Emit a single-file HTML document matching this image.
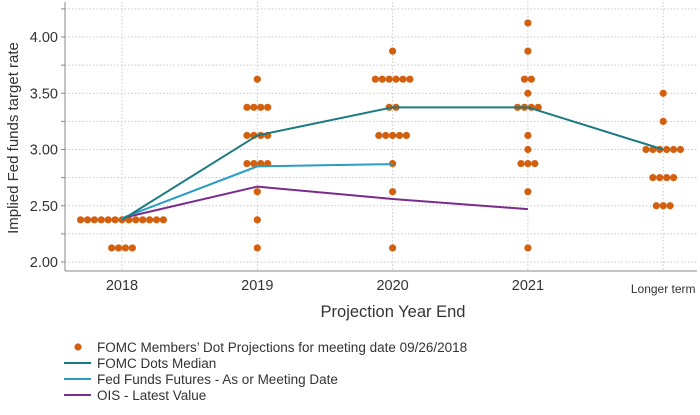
<!DOCTYPE html>
<html><head><meta charset="utf-8"><style>
body{margin:0;background:#fff;width:700px;height:410px;overflow:hidden;font-family:"Liberation Sans",sans-serif}
</style></head><body>
<svg id="c" width="700" height="410" xmlns="http://www.w3.org/2000/svg"></svg>
<script>
const categories=["2018","2019","2020","2021","Longer term"];
// dot groups per category: [rate, count]
const dotGroups=[
 [[2.375,13],[2.125,4]],
 [[3.625,1],[3.375,4],[3.125,4],[2.875,4],[2.625,1],[2.375,1],[2.125,1]],
 [[3.875,1],[3.625,6],[3.375,2],[3.125,5],[2.875,1],[2.625,1],[2.125,1]],
 [[4.125,1],[3.875,1],[3.625,2],[3.5,1],[3.375,4],[3.125,1],[3.0,1],[2.875,3],[2.625,1],[2.125,1]],
 [[3.5,1],[3.25,1],[3.0,6],[2.75,4],[2.5,3]]
];
const medianValues=[2.375,3.125,3.375,3.375,3.0];
const futuresValues=[2.39,2.85,2.87];
const oisValues=[2.39,2.67,2.56,2.47];
const yTicks=[2.0,2.5,3.0,3.5,4.0];
const yTickLabels=["2.00","2.50","3.00","3.50","4.00"];

const svg=document.getElementById('c');
const NS="http://www.w3.org/2000/svg";
function el(t,a,p){const e=document.createElementNS(NS,t);for(const k in a)e.setAttribute(k,a[k]);(p||svg).appendChild(e);return e;}
const xS=i=>122+i*135.3;
const yS=v=>262-(v-2)*112.5;
const L=65,R=697,B=271;

for(let v=2;v<=4.26;v+=0.25){const g=el('line',{x1:L,x2:R,y1:yS(v),y2:yS(v),stroke:'#c8c8c8','stroke-dasharray':'1.5,2'});


const t=el('line',{x1:L-4,x2:L,y1:yS(v),y2:yS(v),stroke:'#888'});

}
categories.forEach((c,i)=>{const g=el('line',{x1:xS(i),x2:xS(i),y1:2,y2:B,stroke:'#c8c8c8','stroke-dasharray':'1.5,2'});


const t=el('text',{x:xS(i),y:i==4?293:290,'text-anchor':'middle','font-size':i==4?12:14.5,fill:'#333'});t.textContent=c;

});
yTicks.forEach((v,i)=>{const t=el('text',{x:58,y:yS(v)+5,'text-anchor':'end','font-size':14.5,fill:'#333'});t.textContent=yTickLabels[i];

});
const ax=el('line',{x1:L,x2:L,y1:2,y2:B,stroke:'#888'});


const bx=el('line',{x1:L,x2:R,y1:B,y2:B,stroke:'#888'});



dotGroups.forEach((grp,i)=>{grp.forEach(([v,n])=>{for(let k=0;k<n;k++){const cx=xS(i)+(k-(n-1)/2)*6.9;
const d=el('circle',{cx:cx,cy:yS(v),r:3.6,fill:'#d2600f'});

}});});

function line(vals,color,name){const p=el('polyline',{points:vals.map((v,i)=>xS(i)+','+yS(v)).join(' '),fill:'none',stroke:color,'stroke-width':2});

}
line(oisValues,'#7b2a8e','ois-line');
line(futuresValues,'#2a9dc4','futures-line');
line(medianValues,'#1a7a80','median-line');

const yt=el('text',{x:0,y:0,transform:'translate(18,138) rotate(-90)','text-anchor':'middle','font-size':15,fill:'#333'});yt.textContent='Implied Fed funds target rate';


const xt=el('text',{x:393,y:317,'text-anchor':'middle','font-size':16.5,fill:'#333'});xt.textContent='Projection Year End';



const leg=[['dot','#d2600f','FOMC Members\u2019 Dot Projections for meeting date 09/26/2018'],['line','#1a7a80','FOMC Dots Median'],['line','#2a9dc4','Fed Funds Futures - As or Meeting Date'],['line','#7b2a8e','OIS - Latest Value']];
leg.forEach((l,i)=>{const y=347+i*16;
const g=el('g',{});


if(l[0]=='dot')el('circle',{cx:78,cy:y,r:3.6,fill:l[1]},g);else el('line',{x1:64,x2:91,y1:y,y2:y,stroke:l[1],'stroke-width':2},g);
const t=el('text',{x:97,y:y+5,'font-size':13.5,fill:'#333'},g);t.textContent=l[2];});
</script>
</body></html>
